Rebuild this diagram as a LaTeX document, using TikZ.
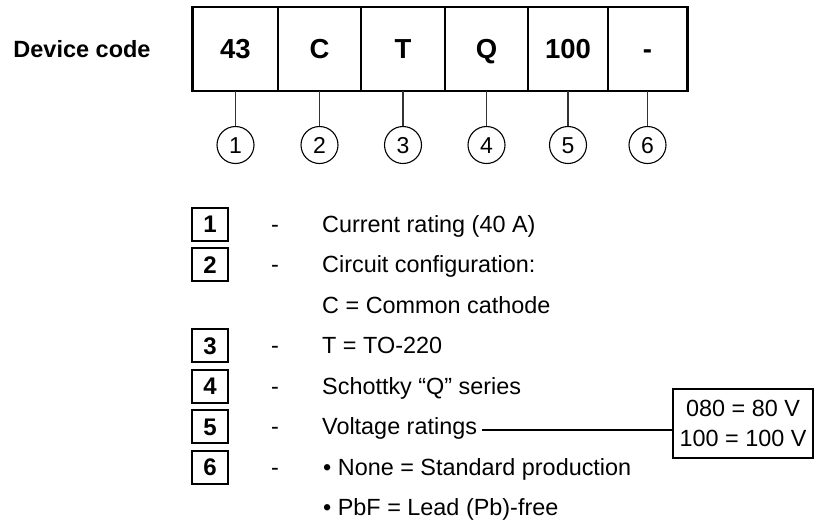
\documentclass[tikz,border=0pt]{standalone}
\usepackage{fontspec}
\setmainfont{Liberation Sans}
\begin{document}
\begin{tikzpicture}[x=1pt,y=-1pt,
  fnt/.style={font=\fontsize{23.4}{28}\selectfont, text height=16.8pt, text depth=0pt},
  cellbox/.style={draw=black, line width=1.2pt, minimum height=83pt, inner sep=0pt,
    font=\fontsize{27.5}{30}\selectfont\bfseries, text height=19.7pt, text depth=0pt},
  numcirc/.style={circle, draw=black, line width=1.1pt, minimum size=37pt, inner sep=0pt,
    font=\fontsize{23}{26}\selectfont, text height=16.5pt, text depth=0pt},
  keybox/.style={draw=black, line width=2pt, minimum width=36pt, minimum height=33pt, inner sep=0pt,
    font=\fontsize{24}{26}\selectfont\bfseries, text height=17.2pt, text depth=0pt},
  desc/.style={fnt, anchor=west, inner sep=0pt},
  dashmark/.style={fnt, inner sep=0pt},
  conn/.style={draw=black!80, line width=1.2pt}
]
\useasboundingbox (0,0) rectangle (814,523);

\node[font=\fontsize{23.5}{28}\selectfont\bfseries, inner sep=0pt, text height=16.9pt, text depth=0pt] (dc) at (82,49) {Device code};

\node[cellbox, minimum width=85pt] (c1) at (235.5,49) {43};
\node[cellbox, minimum width=83pt] (c2) at (319.5,49) {C};
\node[cellbox, minimum width=84pt] (c3) at (403,49) {T};
\node[cellbox, minimum width=83pt] (c4) at (486.5,49) {Q};
\node[cellbox, minimum width=80pt] (c5) at (568,49) {100};
\node[cellbox, minimum width=79pt] (c6) at (647.5,49) {-};
\draw[line width=2pt] (c1.north west) rectangle (c6.south east);

\foreach \i/\x in {1/235.5,2/319.5,3/403,4/486.5,5/568,6/647.5}{
  \node[numcirc] (n\i) at (\x,145) {\i};
  \draw[conn] (c\i.south) -- (n\i.north);
}

% key rows
\node[keybox] (b1) at (210,224) {1};
\node[keybox] (b2) at (210,264.5) {2};
\node[keybox] (b3) at (210,345.5) {3};
\node[keybox] (b4) at (210,386) {4};
\node[keybox] (b5) at (210,426.5) {5};
\node[keybox] (b6) at (210,467) {6};

\foreach \i/\y in {1/224,2/264.5,3/345.5,4/386,5/426.5,6/467}{
  \node[dashmark] (d\i) at (275,\y) {-};
}

\node[desc] (t1) at (322,224) {Current rating (40 A)};
\node[desc] (t2) at (322,264.5) {Circuit configuration:};
\node[desc] (t2b) at (322,305) {C = Common cathode};
\node[desc] (t3) at (322,345.5) {T = TO-220};
\node[desc] (t4) at (322,386) {Schottky “Q” series};
\node[desc] (t5) at (322,426.5) {Voltage ratings};
\node[desc] (t6) at (323,467) {\textbullet\ None = Standard production};
\node[desc] (t6b) at (323,507.5) {\textbullet\ PbF = Lead (Pb)-free};

\node[draw=black, line width=1.2pt, minimum width=140pt, minimum height=69pt, inner sep=0pt,
  align=center, font=\fontsize{23.4}{30}\selectfont] (vb) at (743,423.5)
  {080 = 80 V\\100 = 100 V};
\draw[line width=1.1pt] (t5.east) ++(5pt,-3.5pt) coordinate (vs) -- (vs -| vb.west);
\end{tikzpicture}
\end{document}
